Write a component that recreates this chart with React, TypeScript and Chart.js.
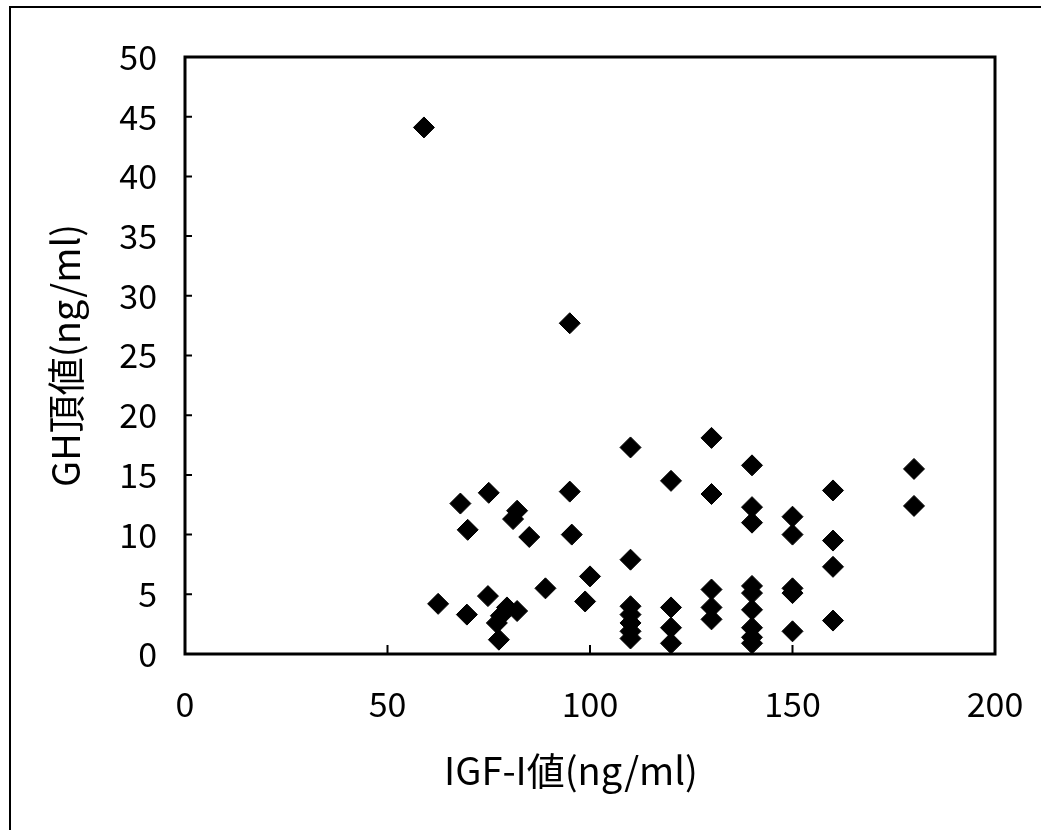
import React, { useEffect, useRef } from "react";
import { Chart, registerables } from "chart.js";

Chart.register(...registerables);

const xTitle = "IGF-I値(ng/ml)\u3000";
const yTitle = "GH頂値(ng/ml)";

const igfValues = [
  59, 95, 62.5, 68, 69.8, 69.6, 75, 74.8, 77.5, 77, 78, 79.5, 82, 81, 82, 85, 89, 95, 95.5, 100, 98.8,
  110, 110, 110, 110, 110, 110, 110,
  120, 120, 120, 120,
  130, 130, 130, 130, 130,
  140, 140, 140, 140, 140, 140, 140, 140, 140,
  150, 150, 150, 150, 150,
  160, 160, 160, 160,
  180, 180,
];
const ghValues = [
  44.1, 27.7, 4.2, 12.6, 10.4, 3.3, 13.5, 4.85, 1.2, 2.6, 3.2, 3.9, 3.6, 11.3, 12, 9.8, 5.5, 13.6, 10, 6.5, 4.4,
  17.3, 7.9, 4.0, 3.3, 2.6, 1.9, 1.3,
  14.5, 3.9, 2.2, 0.9,
  18.1, 13.4, 5.4, 3.9, 2.9,
  15.8, 12.3, 11.0, 5.7, 5.1, 3.7, 2.2, 1.4, 0.9,
  11.5, 10.0, 5.5, 5.1, 1.9,
  13.7, 9.5, 7.3, 2.8,
  15.5, 12.4,
];

const xTickValues = [0, 50, 100, 150, 200];
const yTickValues = [0, 5, 10, 15, 20, 25, 30, 35, 40, 45, 50];

const FONT = "'Noto Sans CJK JP', 'Noto Sans', sans-serif";

const framePlugin = {
  id: "framePlugin",
  afterDraw(chart: any) {
    const { ctx, chartArea } = chart;
    const xs = chart.scales.x;
    const ys = chart.scales.y;
    ctx.save();
    // outer page frame
    ctx.strokeStyle = "#000";
    ctx.lineWidth = 2;
    ctx.beginPath();
    ctx.moveTo(10, 830);
    ctx.lineTo(10, 7);
    ctx.lineTo(1041, 7);
    ctx.stroke();
    // inward ticks
    ctx.lineWidth = 2;
    ctx.beginPath();
    yTickValues.forEach((v) => {
      if (v === 0 || v === 50) return;
      const py = ys.getPixelForValue(v);
      ctx.moveTo(chartArea.left, py);
      ctx.lineTo(chartArea.left + 7, py);
    });
    xTickValues.forEach((v) => {
      if (v === 0 || v === 200) return;
      const px = xs.getPixelForValue(v);
      ctx.moveTo(px, chartArea.bottom);
      ctx.lineTo(px, chartArea.bottom - 9);
    });
    ctx.stroke();
    // plot frame
    ctx.lineWidth = 3;
    ctx.strokeRect(chartArea.left, chartArea.top, chartArea.right - chartArea.left, chartArea.bottom - chartArea.top);
    ctx.restore();
  },
};

export default function App() {
  const ref = useRef<HTMLCanvasElement | null>(null);
  useEffect(() => {
    document.body.style.margin = "0";
    const canvas = ref.current;
    if (!canvas) return;
    const points = igfValues.map((x, i) => ({ x, y: ghValues[i] }));
    const chart = new Chart(canvas, {
      type: "scatter",
      data: {
        datasets: [
          {
            data: points,
            pointStyle: "rectRot",
            pointRadius: 10.5,
            pointBackgroundColor: "#000",
            pointBorderColor: "#000",
            pointBorderWidth: 1,
          },
        ],
      },
      options: {
        animation: false,
        responsive: false,
        events: [],
        layout: { padding: { top: 57, right: 46, left: 0, bottom: 0 } },
        plugins: { legend: { display: false }, tooltip: { enabled: false } },
        scales: {
          x: {
            type: "linear",
            min: 0,
            max: 200,
            afterBuildTicks: (scale: any) => {
              scale.ticks = xTickValues.map((v) => ({ value: v }));
            },
            afterFit: (scale: any) => {
              scale.height = 176;
              scale.paddingLeft = 0;
              scale.paddingRight = 0;
            },
            grid: { display: false, drawTicks: false },
            border: { display: false },
            ticks: {
              color: "#000",
              padding: 30,
              font: { family: FONT, size: 34 },
              maxRotation: 0,
            },
            title: {
              display: true,
              text: xTitle,
              color: "#000",
              font: { family: FONT, size: 38 },
              padding: { top: 0, bottom: 37 },
            },
          },
          y: {
            type: "linear",
            min: 0,
            max: 50,
            afterBuildTicks: (scale: any) => {
              scale.ticks = yTickValues.map((v) => ({ value: v }));
            },
            afterFit: (scale: any) => {
              scale.width = 185;
              scale.paddingTop = 0;
              scale.paddingBottom = 0;
            },
            grid: { display: false, drawTicks: false },
            border: { display: false },
            ticks: {
              color: "#000",
              padding: 28,
              font: { family: FONT, size: 34 },
            },
            title: {
              display: true,
              text: yTitle,
              color: "#000",
              font: { family: FONT, size: 38 },
              padding: { top: 43, bottom: 0 },
            },
          },
        },
      },
      plugins: [framePlugin],
    });
    return () => chart.destroy();
  }, []);
  return (
    <canvas
      ref={ref}
      width={1041}
      height={830}
      style={{ position: "absolute", left: 0, top: 0, display: "block" }}
    />
  );
}
